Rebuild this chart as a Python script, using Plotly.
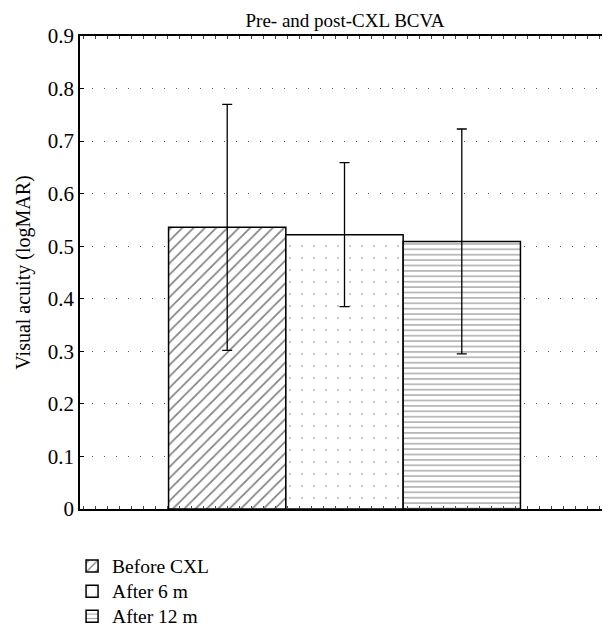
import plotly.graph_objects as go

categories = ["Before CXL", "After 6 m", "After 12 m"]
means = [0.536, 0.522, 0.509]
errors = [0.234, 0.137, 0.214]
patterns = ["/", ".", "-"]
tick_vals = [0, 0.1, 0.2, 0.3, 0.4, 0.5, 0.6, 0.7, 0.8, 0.9]
tick_text = ["0", "0.1", "0.2", "0.3", "0.4", "0.5", "0.6", "0.7", "0.8", "0.9"]

FONT = "Liberation Serif, Times New Roman, serif"

# the page body has an 8px default margin, so the figure is drawn 8px smaller
W, H = 602, 624

fig = go.Figure()
pattern_style = [
    dict(size=8, solidity=0.2, fgcolor="black"),
    dict(size=12, solidity=0.025, fgcolor="#777777"),
    dict(size=5.4, solidity=0.25, fgcolor="#444444"),
]
for i, (name, m, e, p) in enumerate(zip(categories, means, errors, patterns)):
    st = pattern_style[i]
    fig.add_trace(go.Bar(
        x=[i + 1], y=[m], width=1.0,
        name="<span style='font-size:19.5px'>" + name + "</span>",
        marker=dict(color="white", line=dict(color="black", width=1.5),
                    pattern=dict(shape=p, fgcolor=st["fgcolor"], bgcolor="white",
                                 size=st["size"], solidity=st["solidity"])),
        error_y=dict(type="data", array=[e], visible=True, color="black",
                     thickness=1.3, width=5),
    ))

fig.update_layout(
    width=W, height=H,
    paper_bgcolor="white", plot_bgcolor="white",
    margin=dict(l=72, r=1, t=28, b=123, autoexpand=False),
    font=dict(family=FONT, size=20, color="black"),
    title=dict(text="Pre- and post-CXL BCVA", x=337 / W, xanchor="center",
               xref="container", yref="container", y=1 - 12 / H, yanchor="middle",
               font=dict(family=FONT, size=19, color="black")),
    barmode="overlay",
    showlegend=True,
    legend=dict(x=-0.015, y=-0.0835, xanchor="left", yanchor="top",
                orientation="v", font=dict(family=FONT, size=17),
                bgcolor="rgba(0,0,0,0)", tracegroupgap=0),
)
fig.update_xaxes(range=[-0.255, 4.255], showline=True, linecolor="black",
                 linewidth=1.5, mirror="ticks", ticks="inside", ticklen=3,
                 tickwidth=1, tickcolor="#444", tickmode="linear", tick0=1,
                 dtick=0.1023, showticklabels=False, showgrid=False,
                 zeroline=False, automargin=False)
fig.update_yaxes(range=[0, 0.9], tickvals=tick_vals, ticktext=tick_text,
                 showline=True, linecolor="black", linewidth=1.5, mirror=True,
                 ticks="inside", ticklen=4, tickcolor="black",
                 showgrid=True, gridcolor="#555", gridwidth=1, griddash="1px,11px",
                 zeroline=False, automargin=False,
                 title=dict(text="Visual acuity (logMAR)", standoff=12,
                            font=dict(family=FONT, size=20)),
                 tickfont=dict(family=FONT, size=21))

fig.write_html("out.html")
